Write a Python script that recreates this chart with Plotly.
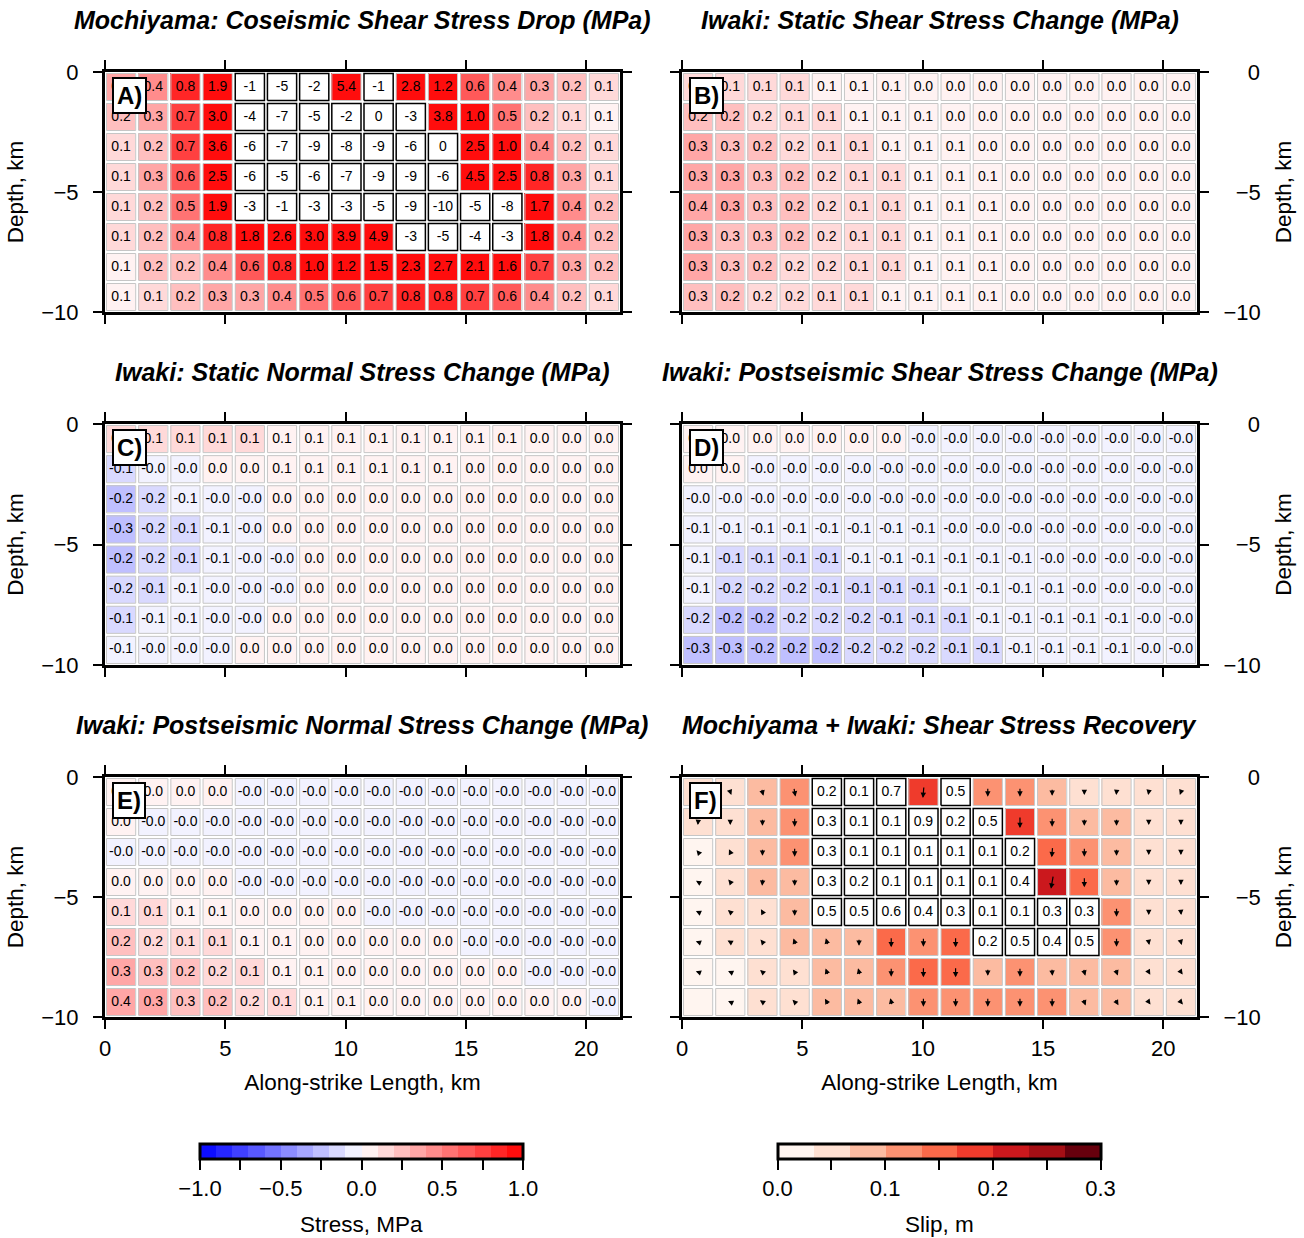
import math
import plotly.graph_objects as go

# ---------------- data ----------------
NX, NY = 16, 8
LENGTH_KM = 21.4
DEPTH_KM = 10.0

X_TICKS = [0, 5, 10, 15, 20]
Y_TICKS = [0, -5, -10]
Y_TICK_TEXT = ["0", "\u22125", "\u221210"]

STRESS_TICKS = [-1.0, -0.75, -0.5, -0.25, 0.0, 0.25, 0.5, 0.75, 1.0]
STRESS_TICK_TEXT = ["\u22121.0", "", "\u22120.5", "", "0.0", "", "0.5", "", "1.0"]
SLIP_TICKS = [0.0, 0.05, 0.1, 0.15, 0.2, 0.25, 0.3]
SLIP_TICK_TEXT = ["0.0", "", "0.1", "", "0.2", "", "0.3"]

TITLES = [
    "Mochiyama: Coseismic Shear Stress Drop (MPa)",
    "Iwaki: Static Shear Stress Change (MPa)",
    "Iwaki: Static Normal Stress Change (MPa)",
    "Iwaki: Postseismic Shear Stress Change (MPa)",
    "Iwaki: Postseismic Normal Stress Change (MPa)",
    "Mochiyama + Iwaki: Shear Stress Recovery",
]
LABELS = ["A)", "B)", "C)", "D)", "E)", "F)"]

# A) coseismic shear stress drop, negative cells = stress increase (boxed, integer labels)
A_SHEAR_DROP = [
    [0.32, 0.42, 0.82, 1.9, -1, -5, -2, 5.4, -1, 2.8, 1.2, 0.62, 0.42, 0.32, 0.22, 0.12],
    [0.22, 0.32, 0.72, 3.0, -4, -7, -5, -2, -0.3, -3, 3.8, 1.0, 0.52, 0.22, 0.12, 0.08],
    [0.12, 0.22, 0.72, 3.6, -6, -7, -9, -8, -9, -6, -0.4, 2.5, 1.0, 0.42, 0.22, 0.12],
    [0.12, 0.32, 0.62, 2.5, -6, -5, -6, -7, -9, -9, -6, 4.5, 2.5, 0.82, 0.32, 0.12],
    [0.12, 0.22, 0.52, 1.9, -3, -1, -3, -3, -5, -9, -10, -5, -8, 1.7, 0.42, 0.22],
    [0.12, 0.22, 0.42, 0.82, 1.8, 2.6, 3.0, 3.9, 4.9, -3, -5, -4, -3, 1.8, 0.42, 0.22],
    [0.08, 0.22, 0.22, 0.42, 0.62, 0.82, 1.0, 1.2, 1.5, 2.3, 2.7, 2.1, 1.6, 0.72, 0.32, 0.22],
    [0.08, 0.12, 0.22, 0.32, 0.32, 0.42, 0.52, 0.62, 0.72, 0.82, 0.82, 0.72, 0.62, 0.42, 0.22, 0.12],
]

B_STATIC_SHEAR = [
    [0.12, 0.12, 0.12, 0.13, 0.08, 0.07, 0.06, 0.04, 0.03, 0.03, 0.03, 0.02, 0.02, 0.02, 0.01, 0.01],
    [0.21, 0.21, 0.18, 0.12, 0.11, 0.08, 0.07, 0.06, 0.04, 0.04, 0.03, 0.03, 0.02, 0.02, 0.02, 0.01],
    [0.31, 0.27, 0.21, 0.17, 0.11, 0.11, 0.08, 0.07, 0.06, 0.04, 0.04, 0.03, 0.03, 0.02, 0.02, 0.01],
    [0.31, 0.32, 0.27, 0.22, 0.17, 0.12, 0.11, 0.08, 0.07, 0.06, 0.04, 0.04, 0.03, 0.03, 0.02, 0.02],
    [0.36, 0.32, 0.28, 0.21, 0.17, 0.12, 0.11, 0.08, 0.07, 0.06, 0.04, 0.04, 0.03, 0.03, 0.02, 0.02],
    [0.32, 0.28, 0.27, 0.21, 0.17, 0.12, 0.11, 0.08, 0.07, 0.06, 0.04, 0.04, 0.03, 0.03, 0.02, 0.02],
    [0.31, 0.27, 0.22, 0.18, 0.16, 0.12, 0.11, 0.08, 0.07, 0.06, 0.04, 0.04, 0.03, 0.03, 0.02, 0.02],
    [0.27, 0.21, 0.18, 0.16, 0.12, 0.11, 0.08, 0.07, 0.06, 0.06, 0.04, 0.04, 0.03, 0.03, 0.02, 0.02],
]

C_STATIC_NORMAL = [
    [0.11, 0.12, 0.12, 0.12, 0.11, 0.08, 0.07, 0.07, 0.07, 0.06, 0.06, 0.06, 0.06, 0.04, 0.03, 0.03],
    [-0.11, -0.03, -0.02, 0.02, 0.03, 0.06, 0.07, 0.07, 0.07, 0.06, 0.06, 0.04, 0.04, 0.03, 0.03, 0.02],
    [-0.21, -0.17, -0.08, -0.04, -0.02, 0.02, 0.03, 0.03, 0.04, 0.04, 0.04, 0.03, 0.03, 0.03, 0.02, 0.02],
    [-0.26, -0.18, -0.11, -0.07, -0.03, 0.01, 0.02, 0.03, 0.03, 0.03, 0.03, 0.03, 0.02, 0.02, 0.02, 0.01],
    [-0.22, -0.17, -0.11, -0.07, -0.04, -0.02, 0.01, 0.02, 0.02, 0.02, 0.02, 0.02, 0.02, 0.02, 0.01, 0.01],
    [-0.18, -0.12, -0.07, -0.04, -0.03, -0.01, 0.01, 0.01, 0.02, 0.02, 0.02, 0.02, 0.02, 0.01, 0.01, 0.01],
    [-0.12, -0.08, -0.06, -0.04, -0.02, 0.01, 0.01, 0.01, 0.01, 0.01, 0.01, 0.01, 0.01, 0.01, 0.01, 0.01],
    [-0.08, -0.04, -0.03, -0.02, 0.01, 0.01, 0.01, 0.01, 0.01, 0.01, 0.01, 0.01, 0.01, 0.01, 0.01, 0.01],
]

D_POST_SHEAR = [
    [0.02, 0.02, 0.02, 0.02, 0.01, 0.01, 0.01, -0.01, -0.01, -0.01, -0.02, -0.02, -0.02, -0.02, -0.02, -0.02],
    [0.01, 0.01, -0.01, -0.02, -0.02, -0.02, -0.02, -0.03, -0.03, -0.03, -0.03, -0.03, -0.03, -0.03, -0.03, -0.03],
    [-0.03, -0.03, -0.04, -0.04, -0.04, -0.04, -0.04, -0.04, -0.04, -0.04, -0.04, -0.04, -0.04, -0.04, -0.03, -0.03],
    [-0.06, -0.07, -0.07, -0.07, -0.07, -0.07, -0.06, -0.06, -0.04, -0.04, -0.04, -0.04, -0.04, -0.04, -0.04, -0.03],
    [-0.08, -0.11, -0.11, -0.11, -0.11, -0.09, -0.08, -0.08, -0.07, -0.06, -0.06, -0.04, -0.04, -0.03, -0.03, -0.02],
    [-0.09, -0.16, -0.16, -0.16, -0.13, -0.12, -0.11, -0.11, -0.09, -0.08, -0.07, -0.06, -0.04, -0.04, -0.03, -0.03],
    [-0.16, -0.21, -0.21, -0.18, -0.17, -0.16, -0.13, -0.12, -0.11, -0.09, -0.08, -0.08, -0.07, -0.06, -0.04, -0.03],
    [-0.27, -0.26, -0.22, -0.21, -0.21, -0.18, -0.17, -0.16, -0.13, -0.11, -0.09, -0.08, -0.07, -0.06, -0.04, -0.03],
]

E_POST_NORMAL = [
    [0.02, 0.01, 0.01, 0.01, -0.01, -0.01, -0.01, -0.01, -0.01, -0.01, -0.01, -0.02, -0.02, -0.02, -0.02, -0.02],
    [0.01, -0.01, -0.01, -0.01, -0.01, -0.02, -0.02, -0.02, -0.02, -0.02, -0.02, -0.02, -0.02, -0.02, -0.02, -0.02],
    [-0.01, -0.01, -0.01, -0.01, -0.02, -0.02, -0.02, -0.02, -0.02, -0.02, -0.02, -0.02, -0.02, -0.02, -0.02, -0.02],
    [0.02, 0.02, 0.01, 0.01, -0.01, -0.01, -0.01, -0.01, -0.02, -0.02, -0.02, -0.02, -0.02, -0.02, -0.02, -0.02],
    [0.11, 0.11, 0.08, 0.07, 0.04, 0.03, 0.02, 0.01, -0.01, -0.01, -0.01, -0.02, -0.02, -0.02, -0.02, -0.02],
    [0.21, 0.18, 0.12, 0.11, 0.08, 0.07, 0.04, 0.03, 0.03, 0.02, 0.01, -0.01, -0.01, -0.01, -0.02, -0.02],
    [0.31, 0.27, 0.22, 0.18, 0.12, 0.08, 0.07, 0.04, 0.03, 0.03, 0.02, 0.02, 0.01, -0.01, -0.01, -0.01],
    [0.36, 0.31, 0.27, 0.21, 0.17, 0.12, 0.08, 0.07, 0.04, 0.03, 0.03, 0.02, 0.02, 0.01, 0.01, -0.01],
]

N = None
# F) slip (m) outside the recovery patch
F_SLIP = [
    [0.05, 0.05, 0.08, 0.12, N, N, N, 0.18, N, 0.12, 0.12, 0.08, 0.05, 0.05, 0.05, 0.05],
    [0.05, 0.05, 0.08, 0.12, N, N, N, N, N, N, 0.18, 0.12, 0.08, 0.08, 0.05, 0.05],
    [0.02, 0.05, 0.08, 0.12, N, N, N, N, N, N, N, 0.15, 0.12, 0.08, 0.05, 0.05],
    [0.02, 0.05, 0.08, 0.08, N, N, N, N, N, N, N, 0.22, 0.15, 0.08, 0.05, 0.05],
    [0.02, 0.05, 0.05, 0.08, N, N, N, N, N, N, N, N, N, 0.12, 0.05, 0.05],
    [0.02, 0.05, 0.05, 0.08, 0.08, 0.08, 0.15, 0.12, 0.15, N, N, N, N, 0.12, 0.05, 0.05],
    [0.02, 0.02, 0.05, 0.05, 0.08, 0.08, 0.12, 0.15, 0.15, 0.08, 0.12, 0.08, 0.08, 0.08, 0.05, 0.05],
    [0.01, 0.02, 0.05, 0.05, 0.08, 0.08, 0.08, 0.12, 0.12, 0.12, 0.12, 0.12, 0.08, 0.08, 0.05, 0.05],
]
# F) slip direction (degrees clockwise from up)
F_RAKE = [
    [180, 160, 165, 170, N, N, N, 185, N, 180, 180, 180, 180, 185, 190, 200],
    [185, 180, 180, 180, N, N, N, N, N, N, 180, 180, 180, 180, 180, 180],
    [320, 335, 180, 180, N, N, N, N, N, N, N, 185, 180, 180, 180, 180],
    [300, 320, 185, 180, N, N, N, N, N, N, N, 190, 180, 180, 180, 180],
    [295, 310, 330, 180, N, N, N, N, N, N, N, N, N, 180, 180, 175],
    [290, 300, 320, 340, 345, 180, 180, 180, 180, N, N, N, N, 180, 170, 165],
    [290, 295, 310, 325, 340, 345, 180, 180, 180, 180, 180, 175, 165, 160, 150, 145],
    [N, 295, 305, 315, 330, 340, 345, 180, 180, 180, 180, 180, 160, 150, 145, 140],
]
# F) shear stress recovery ratio (boxed cells)
F_RECOVERY = [
    [N, N, N, N, 0.2, 0.1, 0.7, N, 0.5, N, N, N, N, N, N, N],
    [N, N, N, N, 0.3, 0.1, 0.1, 0.9, 0.2, 0.5, N, N, N, N, N, N],
    [N, N, N, N, 0.3, 0.1, 0.1, 0.1, 0.1, 0.1, 0.2, N, N, N, N, N],
    [N, N, N, N, 0.3, 0.2, 0.1, 0.1, 0.1, 0.1, 0.4, N, N, N, N, N],
    [N, N, N, N, 0.5, 0.5, 0.6, 0.4, 0.3, 0.1, 0.1, 0.3, 0.3, N, N, N],
    [N, N, N, N, N, N, N, N, N, 0.2, 0.5, 0.4, 0.5, N, N, N],
    [N] * 16,
    [N] * 16,
]

# ---------------- styling ----------------
W, H = 1304, 1238
FONT = "Liberation Sans"
TICK_SIZE = 22
AXT_SIZE = 22.5
TITLE_SIZE = 25
COL_X = [(105, 620), (682, 1197)]
ROW_Y = [(72, 312), (424, 665), (777, 1017)]
PX_PER_KM = (620 - 105) / LENGTH_KM
GAP_PX = 3
ARROW_MIN_PX = 4.0
ARROW_PX_PER_M = 45.0

DX = LENGTH_KM / NX
DY = DEPTH_KM / NY
XC = [(i + 0.5) * DX for i in range(NX)]
YC = [-(j + 0.5) * DY for j in range(NY)]


def stress_scale():
    stops = []
    n = 20
    for k in range(n):
        m = -1 + 0.1 * k + 0.05
        if m < 0:
            t = 1 + m
            c = f"rgb({round(255*t)},{round(255*t)},255)"
        else:
            t = 1 - m
            c = f"rgb(255,{round(255*t)},{round(255*t)})"
        stops.append([k / n, c])
        stops.append([(k + 1) / n, c])
    return stops


REDS = ["#fff5f0", "#fee0d2", "#fcbba1", "#fc9272", "#fb6a4a",
        "#ef3b2c", "#cb181d", "#a50f15", "#67000d"]


def slip_scale():
    stops = []
    n = len(REDS)
    for k, c in enumerate(REDS):
        stops.append([k / n, c])
        stops.append([(k + 1) / n, c])
    return stops


def px_x(p):
    return p / W


def px_y(p):
    return 1 - p / H


fig = go.Figure()
annotations = []

inset = (GAP_PX / 2) / PX_PER_KM


def rect_path(i, j, ins):
    x0 = i * DX + ins
    x1 = (i + 1) * DX - ins
    y1 = -j * DY - ins
    y0 = -(j + 1) * DY + ins
    return [x0, x1, x1, x0, x0, None], [y0, y0, y1, y1, y0, None]


panels = [A_SHEAR_DROP, B_STATIC_SHEAR, C_STATIC_NORMAL, D_POST_SHEAR, E_POST_NORMAL, None]

for p in range(6):
    col = p % 2
    row = p // 2
    xa = "x" if p == 0 else f"x{p+1}"
    ya = "y" if p == 0 else f"y{p+1}"
    xs, ys, txt = [], [], []
    gx, gy, bx, by = [], [], [], []
    if p < 5:
        data = panels[p]
        z = []
        for j in range(NY):
            zr = []
            for i in range(NX):
                v = data[j][i]
                boxed = (p == 0 and v < 0)
                zr.append(None if boxed else v)
                t = str(int(round(v))) if boxed else f"{v:.1f}"
                xs.append(XC[i]); ys.append(YC[j]); txt.append(t)
                rx, ry = rect_path(i, j, inset)
                if boxed:
                    bx += rx; by += ry
                else:
                    gx += rx; gy += ry
            z.append(zr)
        fig.add_trace(go.Heatmap(x=XC, y=YC, z=z, coloraxis="coloraxis", xgap=GAP_PX, ygap=GAP_PX,
                                 hoverinfo="skip", xaxis=xa, yaxis=ya))
    else:
        z = []
        for j in range(NY):
            zr = []
            for i in range(NX):
                r = F_RECOVERY[j][i]
                s = F_SLIP[j][i]
                rx, ry = rect_path(i, j, inset)
                if r is not None:
                    zr.append(None)
                    xs.append(XC[i]); ys.append(YC[j]); txt.append(f"{r:.1f}")
                    bx += rx; by += ry
                else:
                    zr.append(s)
                    gx += rx; gy += ry
                    ang = F_RAKE[j][i]
                    if s is not None and ang is not None:
                        L = (ARROW_MIN_PX + ARROW_PX_PER_M * s) / PX_PER_KM
                        ux, uy = math.sin(math.radians(ang)), math.cos(math.radians(ang))
                        annotations.append(dict(
                            x=XC[i] + ux * L / 2, y=YC[j] + uy * L / 2,
                            ax=XC[i] - ux * L / 2, ay=YC[j] - uy * L / 2,
                            xref=xa, yref=ya, axref=xa, ayref=ya, text="",
                            showarrow=True, arrowhead=2, arrowsize=0.9, arrowwidth=1.2,
                            arrowcolor="black", standoff=0, startstandoff=0))
            z.append(zr)
        fig.add_trace(go.Heatmap(x=XC, y=YC, z=z, coloraxis="coloraxis2", xgap=GAP_PX, ygap=GAP_PX,
                                 hoverinfo="skip", xaxis=xa, yaxis=ya))

    fig.add_trace(go.Scatter(x=gx, y=gy, mode="lines", line=dict(color="#c6c6c6", width=1),
                             hoverinfo="skip", showlegend=False, xaxis=xa, yaxis=ya))
    if bx:
        fig.add_trace(go.Scatter(x=bx, y=by, mode="lines", line=dict(color="black", width=1.5),
                                 hoverinfo="skip", showlegend=False, xaxis=xa, yaxis=ya))
    if txt:
        fig.add_trace(go.Scatter(x=xs, y=ys, text=txt, mode="text", textposition="middle center",
                                 textfont=dict(family=FONT, size=14, color="black"),
                                 hoverinfo="skip", showlegend=False, xaxis=xa, yaxis=ya))

    x0p, x1p = COL_X[col]
    y0p, y1p = ROW_Y[row]
    bottom = (row == 2)
    xkey = "xaxis" if p == 0 else f"xaxis{p+1}"
    ykey = "yaxis" if p == 0 else f"yaxis{p+1}"
    fig.layout[xkey] = dict(
        domain=[px_x(x0p), px_x(x1p)], anchor=ya, range=[0, LENGTH_KM],
        showgrid=False, zeroline=False, showline=True, linewidth=3, linecolor="black",
        mirror="ticks", ticks="outside", ticklen=9, tickwidth=1.5, tickcolor="black",
        tickvals=X_TICKS, ticktext=[str(t) for t in X_TICKS], showticklabels=bottom,
        tickfont=dict(family=FONT, size=TICK_SIZE, color="black"), ticklabelstandoff=1,
        title=dict(text="Along-strike Length, km" if bottom else "",
                   font=dict(family=FONT, size=AXT_SIZE, color="black"), standoff=14),
        fixedrange=True)
    right = (col == 1)
    fig.layout[ykey] = dict(
        domain=[px_y(y1p), px_y(y0p)], anchor=xa, range=[-DEPTH_KM, 0],
        side="right" if right else "left",
        showgrid=False, zeroline=False, showline=True, linewidth=3, linecolor="black",
        mirror="ticks", ticks="outside", ticklen=9, tickwidth=1.5, tickcolor="black",
        tickvals=Y_TICKS,
        ticktext=(["\u2007\u20070", "\u2007\u22125", "\u221210"] if right else Y_TICK_TEXT),
        tickfont=dict(family=FONT, size=TICK_SIZE, color="black"),
        ticklabelstandoff=10 if right else 10,
        title=dict(text="Depth, km", font=dict(family=FONT, size=AXT_SIZE, color="black"),
                   standoff=16 if right else 12),
        fixedrange=True)

    # panel title
    annotations.append(dict(
        x=px_x((x0p + x1p) / 2), y=px_y(y0p - 52), xref="paper", yref="paper",
        text=f"<b><i>{TITLES[p]}</i></b>", showarrow=False, xanchor="center", yanchor="middle",
        font=dict(family=FONT, size=TITLE_SIZE, color="black")))
    # panel label
    annotations.append(dict(
        x=px_x(x0p + 7), y=px_y(y0p + 5), xref="paper", yref="paper",
        text=f"<b>{LABELS[p]}</b>", showarrow=False, xanchor="left", yanchor="top",
        font=dict(family=FONT, size=24, color="black"), bgcolor="white",
        bordercolor="black", borderwidth=2, borderpad=3))

# colorbar titles
annotations.append(dict(x=px_x(361.5), y=px_y(1224), xref="paper", yref="paper", text="Stress, MPa",
                        showarrow=False, xanchor="center", yanchor="middle",
                        font=dict(family=FONT, size=AXT_SIZE, color="black")))
annotations.append(dict(x=px_x(939), y=px_y(1224), xref="paper", yref="paper", text="Slip, m",
                        showarrow=False, xanchor="center", yanchor="middle",
                        font=dict(family=FONT, size=AXT_SIZE, color="black")))

cb_common = dict(orientation="h", xanchor="center", yanchor="top", y=px_y(1144),
                 len=323, lenmode="pixels", thickness=15, thicknessmode="pixels",
                 outlinewidth=3, outlinecolor="black", ticks="outside", ticklen=10,
                 tickwidth=1.5, tickcolor="black", xpad=0, ypad=0,
                 tickfont=dict(family=FONT, size=TICK_SIZE, color="black"))

fig.update_layout(
    width=W, height=H, autosize=False,
    margin=dict(l=0, r=0, t=0, b=0, autoexpand=False),
    paper_bgcolor="white", plot_bgcolor="white",
    font=dict(family=FONT, size=20, color="black"),
    showlegend=False,
    coloraxis=dict(cmin=-1, cmax=1, colorscale=stress_scale(),
                   colorbar=dict(x=px_x(361.5), tickvals=STRESS_TICKS, ticktext=STRESS_TICK_TEXT,
                                 **cb_common)),
    coloraxis2=dict(cmin=0, cmax=0.3, colorscale=slip_scale(),
                    colorbar=dict(x=px_x(939), tickvals=SLIP_TICKS, ticktext=SLIP_TICK_TEXT,
                                  **cb_common)),
    annotations=annotations,
)

fig.write_html("out.html", config={"displayModeBar": False},
               post_script="document.body.style.margin='0';document.body.style.padding='0';")
